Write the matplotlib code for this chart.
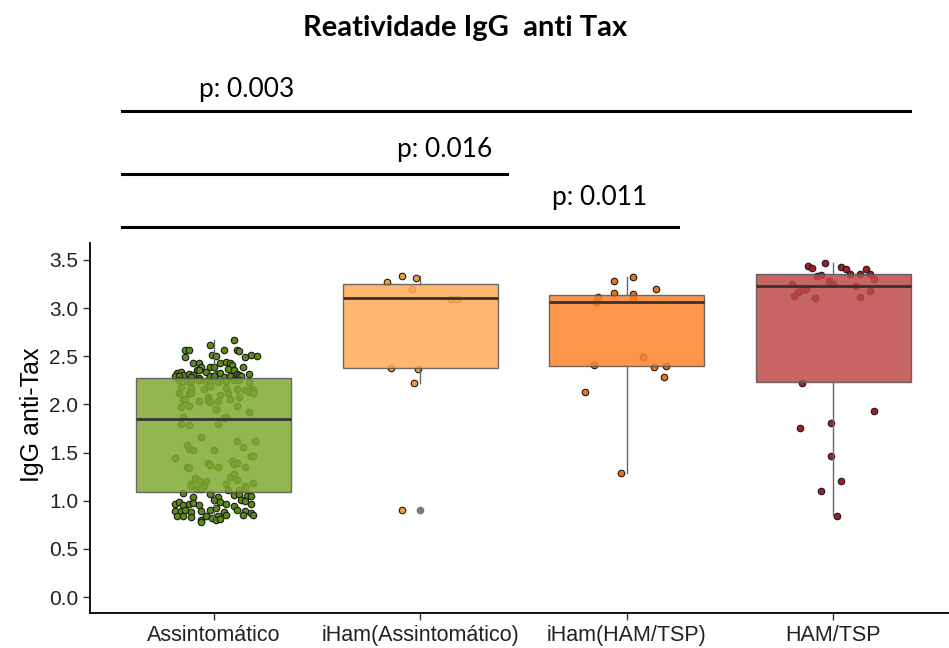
import matplotlib
matplotlib.use("Agg")
import matplotlib.pyplot as plt

# ---------------------------------------------------------------------------
# dados
# ---------------------------------------------------------------------------
grupos = ["Assintomático", "iHam(Assintomático)", "iHam(HAM/TSP)", "HAM/TSP"]

# estatísticas das caixas
q1 = [1.09, 2.38, 2.40, 2.23]
mediana = [1.85, 3.10, 3.06, 3.23]
q3 = [2.27, 3.25, 3.14, 3.35]
bigode_min = [0.80, 2.22, 1.29, 0.85]
bigode_max = [2.67, 3.33, 3.32, 3.47]
outliers = [[], [0.90], [], []]

# pontos individuais (valor, deslocamento do jitter)
assint_val = [
    2.62, 2.67, 2.56, 2.56, 2.56, 2.56, 2.55, 2.49, 2.51, 2.50, 2.49, 2.51, 2.50,
    2.43, 2.43, 2.39, 2.43, 2.44, 2.43, 2.41, 2.39, 2.39, 2.36, 2.36, 2.39, 2.37,
    2.36, 2.33, 2.34, 2.31, 2.32, 2.31, 2.34, 2.32, 2.33, 2.32, 2.31, 2.32, 2.29,
    2.29, 2.28, 2.27, 2.29, 2.29, 2.28, 2.29, 2.29,
    2.25, 2.24, 2.24, 2.25, 2.24, 2.22, 2.23, 2.24, 2.25, 2.25, 2.23, 2.18, 2.17,
    2.16, 2.19, 2.17, 2.16, 2.15, 2.16, 2.15, 2.12, 2.12, 2.12, 2.08, 2.10, 2.12,
    2.08, 2.13, 2.12, 2.05, 2.06, 2.04, 2.05, 2.03, 2.04, 2.06, 1.97, 1.98, 1.95,
    1.98, 1.92, 1.87, 1.80, 1.79, 1.80, 1.86, 1.87, 1.66, 1.62, 1.62, 1.58, 1.54,
    1.53, 1.53, 1.56, 1.46, 1.46, 1.44, 1.39, 1.37, 1.35, 1.41, 1.38, 1.39, 1.35,
    1.35, 1.34, 1.28, 1.24, 1.20, 1.20, 1.25, 1.21, 1.17, 1.15, 1.15, 1.17, 1.15,
    1.18, 1.12, 1.12, 1.11, 1.11, 1.13,
    1.08, 1.04, 1.07, 1.04, 1.06, 1.07, 1.05, 1.05, 0.97, 0.99, 0.96, 0.97, 0.98,
    0.96, 1.01, 0.99, 0.97, 1.01, 1.00, 0.97, 0.89, 0.89, 0.90, 0.88, 0.89, 0.90,
    0.92, 0.88, 0.94, 0.90, 0.89, 0.87, 0.84, 0.84, 0.83, 0.80, 0.84, 0.82, 0.84,
    0.85, 0.85, 0.85, 0.78, 0.80, 0.81,
]
assint_jit = [
    -0.02, 0.10, -0.14, -0.12, 0.05, 0.11, 0.12, -0.14, -0.01, 0.01, 0.15, 0.18, 0.21,
    -0.10, -0.07, -0.02, 0.03, 0.06, 0.08, 0.09, 0.14, -0.06, -0.08, -0.07, 0.00, 0.07,
    0.10, -0.18, -0.16, -0.15, -0.12, -0.10, -0.04, 0.01, 0.03, 0.11, 0.12, 0.17, -0.19,
    -0.17, -0.11, -0.07, -0.02, 0.00, 0.05, 0.08, 0.13,
    -0.17, -0.13, -0.11, -0.07, -0.04, -0.02, 0.02, 0.06, 0.10, 0.12, 0.17, -0.16, -0.11,
    -0.05, -0.02, 0.06, 0.11, 0.15, 0.18, 0.19, -0.17, -0.12, -0.11, -0.03, 0.03, 0.07,
    0.12, 0.17, 0.19, -0.15, -0.14, -0.07, -0.03, -0.02, 0.02, 0.08, -0.16, -0.12, 0.01,
    0.11, 0.17, -0.15, -0.16, -0.12, 0.02, 0.05, 0.06, -0.06, 0.11, 0.20, -0.13, -0.12,
    -0.10, 0.00, 0.14, 0.18, 0.19, -0.19, -0.03, -0.02, 0.02, 0.09, 0.10, 0.11, 0.15,
    -0.13, -0.12, 0.10, -0.09, -0.07, -0.04, 0.08, 0.11, -0.11, -0.11, -0.05, 0.06, 0.15,
    0.19, -0.08, -0.06, 0.07, 0.12, 0.15,
    -0.15, -0.10, -0.02, 0.02, 0.10, 0.12, 0.16, 0.18, -0.19, -0.17, -0.15, -0.12, -0.10,
    -0.07, 0.00, 0.03, 0.06, 0.13, 0.15, 0.18, -0.19, -0.16, -0.14, -0.11, -0.06, -0.02,
    0.01, 0.05, 0.10, 0.11, 0.15, 0.18, -0.18, -0.15, -0.11, -0.06, -0.04, -0.01, 0.02,
    0.06, 0.14, 0.19, -0.06, 0.01, 0.03,
]

iham_assint_val = [3.27, 3.33, 3.31, 3.20, 3.09, 3.09, 2.38, 2.37, 2.22, 0.90]
iham_assint_jit = [-0.16, -0.09, -0.02, -0.04, 0.15, 0.18, -0.14, -0.01, -0.03, -0.09]

iham_ham_val = [3.28, 3.32, 3.20, 3.16, 3.15, 3.12, 3.06, 3.09, 2.49, 2.41, 2.39,
                2.40, 2.28, 2.13, 1.29]
iham_ham_jit = [-0.06, 0.03, 0.14, -0.06, 0.03, -0.14, -0.15, 0.03, 0.08, -0.16, 0.13,
                0.19, 0.18, -0.20, -0.03]

ham_val = [3.44, 3.42, 3.47, 3.43, 3.41, 3.41, 3.35, 3.35, 3.35, 3.33, 3.34, 3.30,
           3.28, 3.25, 3.25, 3.23, 3.20, 3.19, 3.17, 3.13, 3.11, 3.12, 3.18, 2.22,
           1.93, 1.81, 1.76, 1.46, 1.20, 1.10, 0.84]
ham_jit = [-0.12, -0.10, -0.04, 0.04, 0.06, 0.16, 0.18, 0.08, 0.13, -0.08, -0.06, 0.20,
           -0.02, 0.00, -0.20, 0.11, -0.13, -0.15, -0.17, -0.19, -0.09, 0.13, 0.18, -0.15,
           0.20, -0.01, -0.16, -0.01, 0.04, -0.06, 0.02]

pontos_val = [assint_val, iham_assint_val, iham_ham_val, ham_val]
pontos_jit = [assint_jit, iham_assint_jit, iham_ham_jit, ham_jit]

# comparações (texto, grupo inicial, grupo final)
comparacoes = [("p: 0.003", 0, 3), ("p: 0.016", 0, 1), ("p: 0.011", 0, 2)]

# cores
cor_caixa = ["#80a931", "#fdab55", "#fd842b", "#be4949"]
cor_ponto = ["#5b8c13", "#f39c3a", "#e9731c", "#a01f26"]

# ---------------------------------------------------------------------------
# figura
# ---------------------------------------------------------------------------
W, H = 949, 648
fig = plt.figure(figsize=(W / 100, H / 100), dpi=100)
ax = fig.add_axes([90 / W, 35 / H, 867 / W, 370 / H])

for i, (vals, jit) in enumerate(zip(pontos_val, pontos_jit)):
    ax.scatter([i + j for j in jit], vals, s=22, c=cor_ponto[i],
               edgecolors="#1a1a1a", linewidths=0.8, zorder=2)

stats = []
for i, g in enumerate(grupos):
    stats.append(dict(label=g, q1=q1[i], med=mediana[i], q3=q3[i],
                      whislo=bigode_min[i], whishi=bigode_max[i], fliers=outliers[i]))

bp = ax.bxp(stats, positions=range(len(grupos)), widths=0.75, patch_artist=True,
            showcaps=False, manage_ticks=False,
            boxprops=dict(edgecolor="#555555", linewidth=1.0),
            medianprops=dict(color="#333333", linewidth=2.0),
            whiskerprops=dict(color="#666666", linewidth=1.0),
            flierprops=dict(marker="o", markersize=4.5, markerfacecolor="#7a7a7a",
                            markeredgecolor="#7a7a7a"))
for patch, c in zip(bp["boxes"], cor_caixa):
    patch.set_facecolor(c)
    patch.set_alpha(0.85)
    patch.set_zorder(3)
for k in ("medians", "whiskers", "fliers"):
    for art in bp[k]:
        art.set_zorder(4)

ax.set_xlim(-0.6, 3.6)
ax.set_ylim(-0.166, 3.676)
ax.set_xticks(range(len(grupos)))
ax.set_xticklabels(grupos, fontsize=15.5, color="#222222", family="Liberation Sans")
ax.set_yticks([0, 0.5, 1, 1.5, 2, 2.5, 3, 3.5])
ax.set_yticklabels(["0.0", "0.5", "1.0", "1.5", "2.0", "2.5", "3.0", "3.5"],
                   fontsize=15, color="#222222", family="Liberation Sans")
ax.tick_params(length=5, width=1, color="#333333")
ax.set_ylabel("IgG anti-Tax", fontsize=18, family="Liberation Sans")
ax.yaxis.set_label_coords(-0.053, 0.535)
ax.spines["top"].set_visible(False)
ax.spines["right"].set_visible(False)
for s in ("left", "bottom"):
    ax.spines[s].set_linewidth(1.3)
    ax.spines[s].set_color("black")

# título e barras de significância (em coordenadas da figura)
fig.text(465 / W, 1 - 28 / H, "Reatividade IgG  anti Tax", ha="center", va="center",
         fontsize=21, fontweight="bold", family="Lato")

linha_y = [111, 174, 227]
texto_y = [90, 149, 198]
texto_x = [247, 445, 600]
linha_fim = [910, 507, 678]
for (txt, a, b), ly, ty, tx, lf in zip(comparacoes, linha_y, texto_y, texto_x, linha_fim):
    fig.add_artist(plt.Line2D([122 / W, lf / W], [1 - ly / H, 1 - ly / H],
                              color="black", linewidth=2.2))
    fig.text(tx / W, 1 - ty / H, txt, ha="center", va="center", fontsize=19,
             family="Lato")

fig.savefig("out.png", dpi=100)
